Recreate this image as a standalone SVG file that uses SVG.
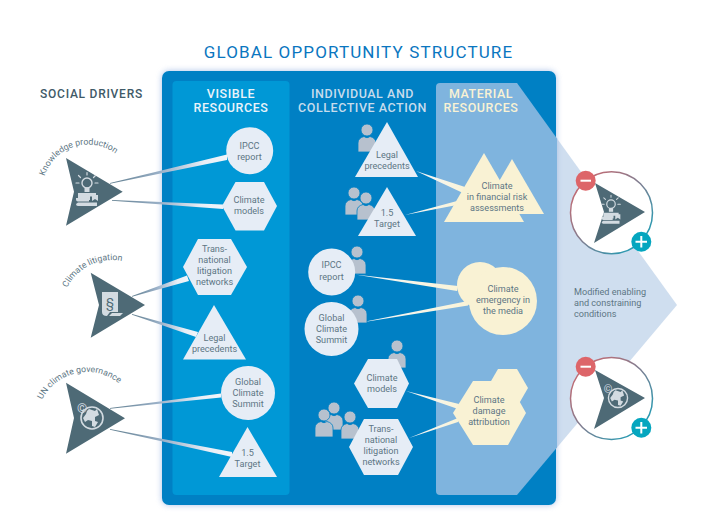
<svg xmlns="http://www.w3.org/2000/svg" xmlns:xlink="http://www.w3.org/1999/xlink" width="703" height="530" viewBox="0 0 703 530">
<style>
text{font-family:Roboto,"Liberation Sans",sans-serif}
.n{font-size:9.1px;fill:#5d7684;text-anchor:middle}
.h{font-size:12.5px;font-weight:500;letter-spacing:.55px;text-anchor:middle}
.c{font-size:8.7px;fill:#5d7684}
.lt{fill:#e6edf6}
.ye{fill:#f9f2d4}
.drv{fill:#4e6a76}
.ic{fill:#d3dbe1}
.ics{fill:none;stroke:#d3dbe1;stroke-linecap:round}
.p{fill:#b7c1ce;stroke:#0080c4;stroke-width:.8}
.cl{fill:url(#gl)}
.cm{fill:url(#gm)}
</style>
<defs>
<filter id="blur" x="-10%" y="-10%" width="120%" height="120%"><feGaussianBlur stdDeviation="3"/></filter>
<linearGradient id="gl" x1="0" y1="0" x2="1" y2="0"><stop offset="0" stop-color="#5f7d8e"/><stop offset=".45" stop-color="#9db3cb"/><stop offset=".8" stop-color="#e8eef6"/><stop offset="1" stop-color="#f1f5fa"/></linearGradient>
<linearGradient id="gm" x1="0" y1="0" x2="1" y2="0"><stop offset="0" stop-color="#f3f6fa"/><stop offset="1" stop-color="#faf4d8"/></linearGradient>
<linearGradient id="ring" x1="0" y1="0" x2="1" y2="1"><stop offset="0" stop-color="#dc6469"/><stop offset=".5" stop-color="#7d7f92"/><stop offset="1" stop-color="#05a6bf"/></linearGradient>
<g id="person"><circle class="p" r="6"/><path class="p" d="M-9,22V13Q-9,8-3,6.5Q0,9 3,6.5Q9,8 9,13V22Z"/></g>
<g id="know">
<circle class="ics" cx="0" cy="-1" r="5" stroke-width="1.4"/>
<path class="ic" d="M-2.5,3.5H2.5V8H-2.5Z"/>
<path class="ics" stroke-width="1.2" d="M0,-9V-11.500M-6.500,-6.500L-8.500,-8.500M6.500,-6.500L8.500,-8.500M-8,-1H-11M8,-1H11"/>
<path class="ic" d="M-9,9H9V12.500H3V16H-9ZM-11,14H2V17.500H-9Q-11,17.500-11,15.500ZM-9,18.500H10V22H-9Q-11,22-11,20ZM5,11H11V17L8,15L5,17Z"/>
</g>
<g id="globe">
<circle class="ics" r="11" stroke-width="1.6"/>
<path class="ic" d="M-3,-9L3,-7L5,-9L7,-3L3,-1L3,3L6,4L3,9L0,8L0,3L-4,2L-7,4L-9,0L-6,-4L-5,-7Z"/>
</g>
</defs>

<polygon points="517,83 677,305 517,495" fill="#cfdeef"/>
<rect x="162" y="71" width="394" height="434" rx="7" fill="#7f9fdc" opacity=".65" filter="url(#blur)"/>
<rect x="162" y="71" width="394" height="434" rx="7" fill="#0080c4"/>
<rect x="172.500" y="81" width="117" height="414" rx="4" fill="#0098d6"/>
<path d="M440,83H517L557,138.500V447.500L517,495H440Q436,495 436,491V87Q436,83 440,83Z" fill="#7fb4de"/>

<text x="358.500" y="58" font-size="17" letter-spacing="1.13" text-anchor="middle" fill="#0a76c0">GLOBAL OPPORTUNITY STRUCTURE</text>
<text x="91.500" y="98" font-size="12" font-weight="500" letter-spacing=".75" text-anchor="middle" fill="#3f5a68">SOCIAL DRIVERS</text>
<g fill="#eaf3fa"><text class="h" x="231" y="98">VISIBLE</text><text class="h" x="231" y="112">RESOURCES</text></g>
<g fill="#c7dcec"><text class="h" x="362.500" y="98">INDIVIDUAL AND</text><text class="h" x="362.500" y="112">COLLECTIVE ACTION</text></g>
<g fill="#f9f2d4"><text class="h" x="481" y="98">MATERIAL</text><text class="h" x="481" y="112">RESOURCES</text></g>

<g id="connectors">
<polygon class="cl" points="110,183 110,183.800 227,160 227,154.500"/>
<polygon class="cl" points="112,200 112,200.800 223,209 223,204.500"/>
<polygon class="cl" points="132,296 132,296.800 189,281 187,275.500"/>
<polygon class="cl" points="132,314 132,314.800 196,337 198,332"/>
<polygon class="cl" points="110,408 110,408.800 221,397.500 221,393.500"/>
<polygon class="cl" points="110,429 110,429.800 232,457 232,452"/>
<polygon class="cm" points="416,171 465,187 463,193"/>
<polygon class="cm" points="405,215 457,201 457,205"/>
<polygon class="cm" points="355,274.500 458,286 457,291"/>
<polygon class="cm" points="358,323 468,301 468,305.500"/>
<polygon class="cm" points="406,391 459,404 458,409"/>
<polygon class="cm" points="409,438 458,418 458,422"/>
</g>

<g id="driver-knowledge">
<defs><path id="a1" d="M42.500,190A45.500,45.500 0 0 1 133.500,190"/></defs>
<text class="c"><textPath xlink:href="#a1" href="#a1" startOffset="14">Knowledge production</textPath></text>
<polygon class="drv" points="66,158 122.700,191.700 66,225.700 74,191.700"/>
<use href="#know" x="87" y="184"/>
</g>
<g id="driver-litigation">
<defs><path id="a2" d="M62,310A50,50 0 0 1 162,310"/></defs>
<text class="c"><textPath xlink:href="#a2" href="#a2" startOffset="23">Climate litigation</textPath></text>
<polygon class="drv" points="90.700,272.700 145,305 90.700,337.700 99,305"/>
<path class="ic" d="M102,292H118V312L110,312L107,316Q102,316 102,312Z"/>
<path class="ic" d="M112,313H123L120,316H109Z"/>
<text x="110" y="307" font-size="13" text-anchor="middle" fill="#4e6a76">§</text>
</g>
<g id="driver-un">
<defs><path id="a3" d="M37,422A50,50 0 0 1 137,422"/></defs>
<text class="c"><textPath xlink:href="#a3" href="#a3" startOffset="23">UN climate governance</textPath></text>
<polygon class="drv" points="66,382.700 125,418.300 66,453.700 74,418"/>
<text x="82" y="412.500" font-size="13" text-anchor="middle" fill="#d3dbe1">©</text>
<use href="#globe" x="92" y="418"/>
</g>

<g id="v-ipcc"><circle class="lt" cx="249.700" cy="150.700" r="23.500"/><text class="n" x="249.500" y="148.500">IPCC</text><text class="n" x="249.500" y="159.500">report</text></g>
<g id="v-models"><polygon class="lt" points="222,206 235.500,182 264,182 277,206 264,230.500 235.500,230.500"/><text class="n" x="249" y="203">Climate</text><text class="n" x="249" y="214">models</text></g>
<g id="v-trans"><polygon class="lt" points="183,267 198,239 231,239 247,267 231,295 198,295"/><text class="n" x="214.500" y="252">Trans-</text><text class="n" x="214.500" y="263">national</text><text class="n" x="214.500" y="274">litigation</text><text class="n" x="214.500" y="284.500">networks</text></g>
<g id="v-legal"><polygon class="lt" points="214,305 246,359.500 183,359.500"/><text class="n" x="214.500" y="341">Legal</text><text class="n" x="214.500" y="352">precedents</text></g>
<g id="v-summit"><circle class="lt" cx="248" cy="393" r="27"/><text class="n" x="248" y="385">Global</text><text class="n" x="248" y="396">Climate</text><text class="n" x="248" y="407">Summit</text></g>
<g id="v-target"><polygon class="lt" points="247.500,427 277,477 219,477"/><text class="n" x="247.500" y="456">1.5</text><text class="n" x="247.500" y="467">Target</text></g>

<g id="a-legal"><use href="#person" x="367" y="130"/><polygon class="lt" points="387,122 418,177 355,177"/><text class="n" x="387" y="158">Legal</text><text class="n" x="387" y="169">precedents</text></g>
<g id="a-target"><use href="#person" x="354" y="193"/><use href="#person" x="366" y="198"/><polygon class="lt" points="387,187 416,236 358,236"/><text class="n" x="387" y="216">1.5</text><text class="n" x="387" y="227">Target</text></g>
<g id="a-ipcc"><use href="#person" x="357" y="252"/><circle class="lt" cx="331.700" cy="272" r="23.500"/><text class="n" x="331.500" y="268">IPCC</text><text class="n" x="331.500" y="279.500">report</text></g>
<g id="a-summit"><use href="#person" x="358" y="301"/><circle class="lt" cx="331.500" cy="329" r="27"/><text class="n" x="331.500" y="321">Global</text><text class="n" x="331.500" y="332">Climate</text><text class="n" x="331.500" y="342.500">Summit</text></g>
<g id="a-models"><use href="#person" x="397" y="346"/><polygon class="lt" points="354,383.500 368,359 397,359 409,383.500 397,408 368,408"/><text class="n" x="382" y="381">Climate</text><text class="n" x="382" y="392">models</text></g>
<g id="a-trans"><use href="#person" x="334" y="408"/><use href="#person" x="324" y="415"/><use href="#person" x="350" y="417"/><polygon class="lt" points="349,447 364,419 398,419 413,447 398,475 364,475"/><text class="n" x="381" y="432">Trans-</text><text class="n" x="381" y="443">national</text><text class="n" x="381" y="454">litigation</text><text class="n" x="381" y="464.500">networks</text></g>

<g id="m-finance"><polygon class="ye" points="512,159 544,214 480,214"/><polygon class="ye" points="484,153 524,222 444,222"/><text class="n" x="497" y="189">Climate</text><text class="n" x="497" y="200">in financial risk</text><text class="n" x="497" y="211">assessments</text></g>
<g id="m-media"><circle class="ye" cx="480" cy="285" r="23"/><circle class="ye" cx="503" cy="301" r="34"/><text class="n" x="503" y="292">Climate</text><text class="n" x="503" y="303">emergency in</text><text class="n" x="503" y="314">the media</text></g>
<g id="m-damage"><polygon class="ye" points="487,388 498,369 517,369 528,388 517,407 498,407"/><polygon class="ye" points="453,413 473,381 508,381 526,413 508,445 473,445"/><text class="n" x="489" y="403">Climate</text><text class="n" x="489" y="414">damage</text><text class="n" x="489" y="424.500">attribution</text></g>

<text class="c" x="574" y="295" style="font-size:9.1px">Modified enabling</text>
<text class="c" x="574" y="306" style="font-size:9.1px">and constraining</text>
<text class="c" x="574" y="317" style="font-size:9.1px">conditions</text>

<g id="out-knowledge">
<circle cx="611.500" cy="212.700" r="41" fill="#fff" stroke="url(#ring)" stroke-width="1.500"/>
<polygon class="drv" points="595,183 645,212 594,243 604,212"/>
<use href="#know" transform="translate(611,205) scale(.85)"/>
<circle cx="585.700" cy="180.700" r="10" fill="#dd6569"/><rect x="580.500" y="179.700" width="10.500" height="2" fill="#fff"/>
<circle cx="641.300" cy="241.700" r="10" fill="#05a6bf"/><path d="M635.500,241.700H647M641.300,236V247.500" stroke="#fff" stroke-width="2" fill="none"/>
</g>
<g id="out-un">
<circle cx="611.500" cy="398.500" r="41" fill="#fff" stroke="url(#ring)" stroke-width="1.500"/>
<polygon class="drv" points="595,370 645,398 594,429 604,398"/>
<text x="608" y="393" font-size="11" text-anchor="middle" fill="#d3dbe1">©</text>
<use href="#globe" transform="translate(618,398) scale(.87)"/>
<circle cx="585.700" cy="366.700" r="10" fill="#dd6569"/><rect x="580.500" y="365.700" width="10.500" height="2" fill="#fff"/>
<circle cx="641.300" cy="427.700" r="10" fill="#05a6bf"/><path d="M635.500,427.700H647M641.300,422V433.500" stroke="#fff" stroke-width="2" fill="none"/>
</g>
</svg>
